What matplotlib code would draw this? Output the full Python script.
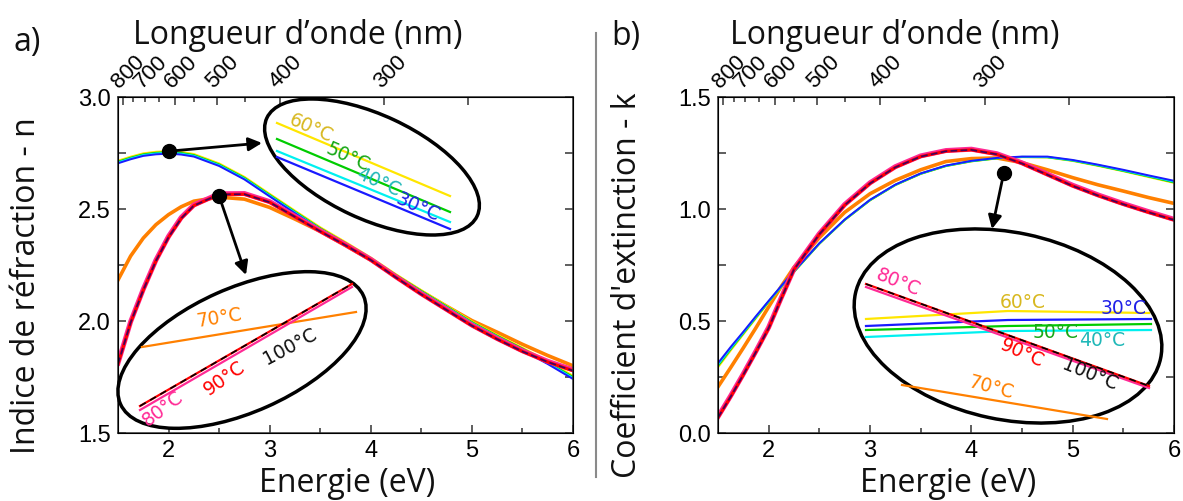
import matplotlib.pyplot as plt
from matplotlib.patches import Ellipse

# photon energy grid (eV), finer where the curves bend most
energy = [1.5, 1.625, 1.75, 1.875, 2.0, 2.125, 2.25, 2.5, 2.75, 3.0, 3.25, 3.5, 3.75,
          4.0, 4.25, 4.5, 4.75, 5.0, 5.25, 5.5, 5.75, 6.0]

# refractive index n
n_30 = [2.704, 2.722, 2.737, 2.744, 2.747, 2.743, 2.734, 2.692, 2.632, 2.556, 2.481, 2.408, 2.342,
        2.273, 2.198, 2.127, 2.058, 1.988, 1.927, 1.869, 1.808, 1.741]
n_40 = [2.708, 2.726, 2.741, 2.748, 2.751, 2.747, 2.738, 2.696, 2.636, 2.560, 2.485, 2.411, 2.345,
        2.277, 2.202, 2.131, 2.062, 1.992, 1.931, 1.873, 1.812, 1.746]
n_50 = [2.711, 2.729, 2.744, 2.751, 2.754, 2.750, 2.741, 2.699, 2.639, 2.563, 2.488, 2.414, 2.348,
        2.280, 2.205, 2.134, 2.065, 1.995, 1.934, 1.877, 1.816, 1.750]
n_60 = [2.715, 2.733, 2.748, 2.755, 2.758, 2.754, 2.745, 2.703, 2.643, 2.567, 2.492, 2.418, 2.352,
        2.283, 2.208, 2.137, 2.068, 1.998, 1.937, 1.880, 1.820, 1.755]
n_70 = [2.183, 2.290, 2.370, 2.430, 2.475, 2.510, 2.535, 2.553, 2.544, 2.507, 2.455, 2.400, 2.337,
        2.272, 2.200, 2.132, 2.066, 2.002, 1.950, 1.896, 1.846, 1.800]
n_80 = [1.812, 1.997, 2.142, 2.272, 2.378, 2.462, 2.518, 2.568, 2.569, 2.533, 2.468, 2.403, 2.341,
        2.275, 2.197, 2.122, 2.052, 1.982, 1.922, 1.867, 1.820, 1.782]
n_90 = [1.808, 1.993, 2.138, 2.268, 2.374, 2.458, 2.515, 2.565, 2.566, 2.530, 2.465, 2.400, 2.338,
        2.272, 2.194, 2.119, 2.049, 1.979, 1.919, 1.864, 1.817, 1.778]
n_100 = [1.808, 1.993, 2.138, 2.268, 2.374, 2.458, 2.515, 2.565, 2.566, 2.530, 2.465, 2.400, 2.338,
         2.272, 2.194, 2.119, 2.049, 1.979, 1.919, 1.864, 1.817, 1.778]

# extinction coefficient k
k_30 = [0.312, 0.384, 0.452, 0.522, 0.590, 0.657, 0.722, 0.847, 0.953, 1.041, 1.109, 1.159, 1.194,
        1.215, 1.228, 1.234, 1.234, 1.219, 1.198, 1.175, 1.150, 1.126]
k_40 = [0.305, 0.378, 0.448, 0.519, 0.588, 0.655, 0.721, 0.846, 0.952, 1.040, 1.108, 1.158, 1.193,
        1.214, 1.227, 1.233, 1.232, 1.217, 1.196, 1.172, 1.147, 1.122]
k_50 = [0.300, 0.374, 0.445, 0.516, 0.586, 0.654, 0.720, 0.845, 0.951, 1.039, 1.107, 1.157, 1.192,
        1.213, 1.226, 1.232, 1.231, 1.216, 1.194, 1.170, 1.145, 1.119]
k_60 = [0.294, 0.369, 0.441, 0.513, 0.584, 0.653, 0.719, 0.845, 0.951, 1.039, 1.107, 1.157, 1.192,
        1.213, 1.226, 1.232, 1.231, 1.215, 1.193, 1.169, 1.143, 1.117]
k_70 = [0.206, 0.292, 0.380, 0.470, 0.563, 0.655, 0.740, 0.872, 0.985, 1.068, 1.128, 1.175, 1.212,
        1.225, 1.228, 1.207, 1.175, 1.140, 1.108, 1.080, 1.051, 1.025]
k_80 = [0.073, 0.166, 0.264, 0.366, 0.472, 0.605, 0.733, 0.890, 1.020, 1.117, 1.189, 1.237, 1.261,
        1.267, 1.247, 1.206, 1.156, 1.106, 1.063, 1.024, 0.988, 0.954]
k_90 = [0.069, 0.162, 0.260, 0.362, 0.468, 0.601, 0.730, 0.887, 1.017, 1.114, 1.186, 1.234, 1.258,
        1.264, 1.244, 1.203, 1.153, 1.103, 1.060, 1.021, 0.985, 0.951]
k_100 = [0.069, 0.162, 0.260, 0.362, 0.468, 0.601, 0.730, 0.887, 1.017, 1.114, 1.186, 1.234, 1.258,
         1.264, 1.244, 1.203, 1.153, 1.103, 1.060, 1.021, 0.985, 0.951]

# top wavelength axis (nm)
wl_major = [800, 600, 500, 400, 300, 250]
wl_major_labels = ['800', '600', '500', '400', '300', '']
wl_minor = [750, 700, 650, 550, 450, 350]
wl_minor_labels = ['', '700', '', '', '', '']
EV_NM = 1239.84

c30, c40, c50, c60 = '#1a1aff', '#00f0f0', '#00cc00', '#ffe600'
c70, c80, c90, c100 = '#ff8000', '#ff2a95', '#ff0000', '#000000'
t30, t40, t50, t60 = '#2020e8', '#20b8b8', '#18a818', '#d8b820'

plt.rcParams['font.family'] = 'Liberation Sans'
plt.rcParams['xtick.labelsize'] = 17
plt.rcParams['ytick.labelsize'] = 17

W, H = 1183, 501
fig = plt.figure(figsize=(W / 100, H / 100), dpi=100)


def px_axes(x0, y0, x1, y1, **kw):
    return fig.add_axes([x0 / W, 1 - y1 / H, (x1 - x0) / W, (y1 - y0) / H], **kw)


def draw(ax, s30, s40, s50, s60, s70, s80, s90, s100):
    ax.plot(energy, s70, color=c70, lw=2.6)
    ax.plot(energy, s60, color=c60, lw=1.6)
    ax.plot(energy, s50, color=c50, lw=1.4)
    ax.plot(energy, s40, color=c40, lw=1.4)
    ax.plot(energy, s30, color=c30, lw=1.4)
    ax.plot(energy, s80, color=c80, lw=3.6)
    ax.plot(energy, s90, color=c90, lw=2.2)
    ax.plot(energy, s100, color='#400060', lw=1.2, ls=(0, (4, 2)))


def style(ax, ylim, ymajor, yminor):
    ax.set_xlim(1.5, 6)
    ax.set_ylim(*ylim)
    ax.set_xticks([2, 3, 4, 5, 6])
    ax.set_xticks([2.5, 3.5, 4.5, 5.5], minor=True)
    ax.set_yticks(ymajor, labels=['%.1f' % v for v in ymajor])
    ax.set_yticks(yminor, minor=True)
    ax.tick_params(which='both', direction='in', right=True, color='#333333', width=1.1)
    ax.tick_params(which='major', length=6, pad=5)
    ax.tick_params(axis='y', which='minor', length=6)
    ax.tick_params(axis='x', which='minor', length=3.5)
    for sp in ax.spines.values():
        sp.set_color('#333333')
        sp.set_linewidth(1.1)

    top = ax.twiny()
    top.set_xlim(1.5, 6)
    top.set_xticks([EV_NM / w for w in wl_major], labels=wl_major_labels)
    top.set_xticks([EV_NM / w for w in wl_minor], labels=wl_minor_labels, minor=True)
    top.tick_params(which='both', direction='in', color='#333333', width=1.1, pad=3)
    top.tick_params(which='major', length=6)
    top.tick_params(which='minor', length=3.5)
    for lab in top.get_xticklabels(which='both'):
        lab.set_rotation(45)
        lab.set_ha('left')
        lab.set_va('bottom')
        lab.set_rotation_mode('anchor')
        lab.set_fontsize(16)


ax_n = px_axes(118, 97, 573, 433)
ax_k = px_axes(718, 97, 1174, 433)
draw(ax_n, n_30, n_40, n_50, n_60, n_70, n_80, n_90, n_100)
draw(ax_k, k_30, k_40, k_50, k_60, k_70, k_80, k_90, k_100)
style(ax_n, (1.5, 3.0), [1.5, 2.0, 2.5, 3.0], [1.75, 2.25, 2.75])
style(ax_k, (0.0, 1.5), [0.0, 0.5, 1.0, 1.5], [0.25, 0.75, 1.25])

# marker dots on the curves
i_peak, i_top = 4, 7
ax_n.plot(energy[i_peak], n_60[i_peak], 'o', color='black', ms=10, zorder=6)
ax_n.plot(energy[i_top], n_80[i_top] - 0.01, 'o', color='black', ms=10, zorder=6)
ax_k.plot(4.32, 1.161, 'o', color='black', ms=10, zorder=6)

# overlay in pixel coordinates for the zoom insets
ov = fig.add_axes([0, 0, 1, 1], zorder=5)
ov.set_xlim(0, W)
ov.set_ylim(H, 0)
ov.axis('off')
ov.patch.set_alpha(0)

lab_font = dict(family='DejaVu Sans', fontsize=13.5, ha='center', va='center',
                rotation_mode='anchor')

# panel a, upper inset (30-60 C)
ov.add_patch(Ellipse((372, 167), 232, 104, angle=25, fc='white', ec='black', lw=2.5))
for (x0, y0, x1, y1), c in [((277, 123, 450, 196), c60), ((277, 139, 450, 212), c50),
                            ((277, 151, 450, 222), c40), ((277, 157, 450, 229), c30)]:
    ov.plot([x0, x1], [y0, y1], color=c, lw=1.6)
ov.text(311, 128, '60°C', color=t60, rotation=-24, **lab_font)
ov.text(348, 157, '50°C', color=t50, rotation=-24, **lab_font)
ov.text(378, 182, '40°C', color=t40, rotation=-24, **lab_font)
ov.text(418, 207, '30°C', color=t30, rotation=-24, **lab_font)

# panel a, lower inset (70-100 C)
ov.add_patch(Ellipse((242, 350), 266, 124, angle=-24, fc='white', ec='black', lw=2.5))
ov.plot([142, 356], [347, 312], color=c70, lw=1.6)
ov.plot([140, 352], [410, 287], color=c80, lw=1.6)
ov.plot([140, 352], [406, 284], color=c90, lw=1.6)
ov.plot([140, 352], [406, 284], color='black', lw=1.2, ls=(0, (4, 3)))
ov.text(219, 318, '70°C', color=c70, rotation=9, **lab_font)
ov.text(163, 409, '80°C', color=c80, rotation=37, **lab_font)
ov.text(225, 378, '90°C', color=c90, rotation=35, **lab_font)
ov.text(290, 347, '100°C', color='#111111', rotation=28, **lab_font)

# panel b inset
ov.add_patch(Ellipse((1008, 326), 312, 187, angle=12, fc='white', ec='black', lw=2.5))
ov.plot([866, 1008, 1149], [319, 311, 313], color=c60, lw=1.6)
ov.plot([866, 1008, 1151], [326, 320, 319], color=c30, lw=1.6)
ov.plot([866, 1008, 1151], [330, 326, 324], color=c50, lw=1.6)
ov.plot([866, 1008, 1151], [337, 331, 330], color=c40, lw=1.6)
ov.plot([902, 1107], [385, 419], color=c70, lw=1.6)
ov.plot([866, 1149], [287, 388], color=c80, lw=1.6)
ov.plot([866, 1149], [284, 386], color=c90, lw=1.6)
ov.plot([866, 1149], [284, 386], color='black', lw=1.2, ls=(0, (4, 3)))
ov.text(898, 283, '80°C', color=c80, rotation=-22, **lab_font)
ov.text(1023, 302, '60°C', color=t60, **lab_font)
ov.text(1124, 308, '30°C', color=t30, **lab_font)
ov.text(1056, 333, '50°C', color=t50, **lab_font)
ov.text(1102, 340, '40°C', color=t40, **lab_font)
ov.text(1022, 353, '90°C', color=c90, rotation=-24, **lab_font)
ov.text(1090, 375, '100°C', color='#111111', rotation=-22, **lab_font)
ov.text(991, 388, '70°C', color=c70, rotation=-15, **lab_font)

# arrows from dots to insets
arrow = dict(arrowstyle='-|>', color='black', lw=2, mutation_scale=20,
             shrinkA=0, shrinkB=0)
ov.annotate('', xy=(262, 143), xytext=(energy[i_peak], n_60[i_peak]),
            textcoords=ax_n.transData, arrowprops=arrow)
ov.annotate('', xy=(246, 275), xytext=(energy[i_top], n_80[i_top] - 0.01),
            textcoords=ax_n.transData, arrowprops=arrow)
ov.annotate('', xy=(992, 229), xytext=(4.32, 1.161),
            textcoords=ax_k.transData, arrowprops=arrow)

# separator
ov.plot([596, 596], [33, 477], color='#8a8a8a', lw=1.5)

big = dict(family='Open Sans', fontsize=23, color='#111111')
fig.text(27 / W, 1 - 42 / H, 'a)', ha='center', va='center', **big)
fig.text(626 / W, 1 - 37 / H, 'b)', ha='center', va='center', **big)
fig.text(298 / W, 1 - 36 / H, 'Longueur d’onde (nm)', ha='center', va='center', **big)
fig.text(895 / W, 1 - 36 / H, 'Longueur d’onde (nm)', ha='center', va='center', **big)
fig.text(347 / W, 1 - 483 / H, 'Energie (eV)', ha='center', va='center', **big)
fig.text(948 / W, 1 - 483 / H, 'Energie (eV)', ha='center', va='center', **big)
fig.text(27 / W, 1 - 286 / H, 'Indice de réfraction - n', rotation=90,
         ha='center', va='center', **big)
fig.text(627 / W, 1 - 285 / H, "Coefficient d'extinction - k", rotation=90,
         ha='center', va='center', **big)

fig.savefig('out.png', dpi=100)
